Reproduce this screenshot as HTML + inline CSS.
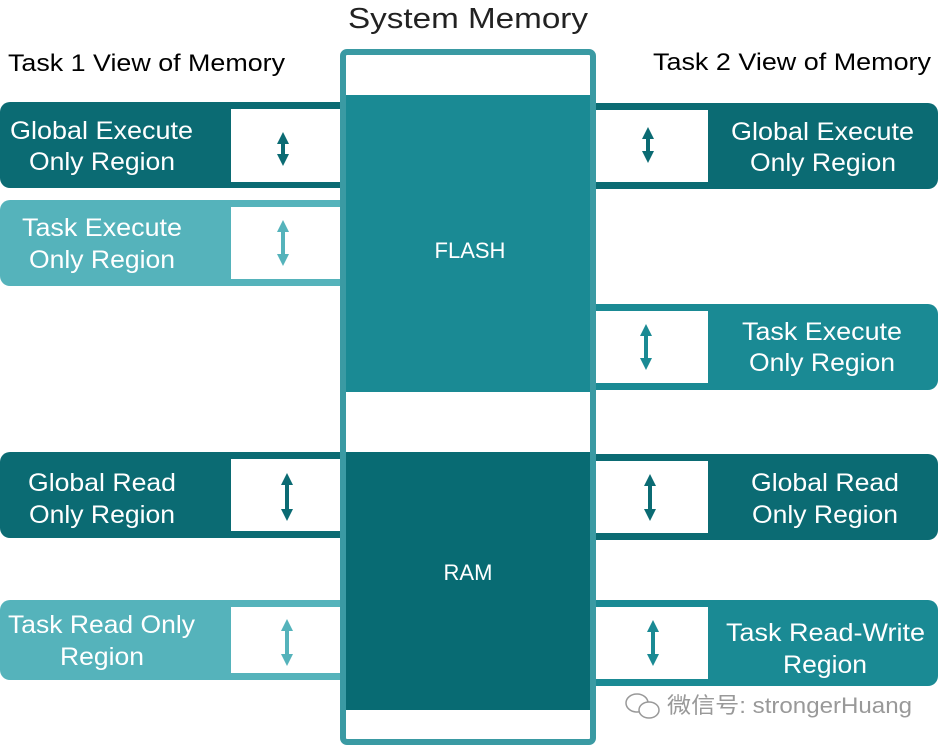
<!DOCTYPE html>
<html><head><style>body{margin:0;background:#fff}svg{display:block}</style></head><body>
<svg width="941" height="747" viewBox="0 0 941 747" xmlns="http://www.w3.org/2000/svg" font-family="Liberation Sans, sans-serif">
<defs>
<marker id="ad" viewBox="0 0 10 10" refX="5" refY="5" markerWidth="3" markerHeight="3" orient="auto-start-reverse"><path d="M0,0L10,5L0,10z" fill="#0b6b73"/></marker>
<marker id="al" viewBox="0 0 10 10" refX="5" refY="5" markerWidth="3" markerHeight="3" orient="auto-start-reverse"><path d="M0,0L10,5L0,10z" fill="#55b3bb"/></marker>
<marker id="am" viewBox="0 0 10 10" refX="5" refY="5" markerWidth="3" markerHeight="3" orient="auto-start-reverse"><path d="M0,0L10,5L0,10z" fill="#1a8a94"/></marker>
</defs>
<text x="348" y="28" font-size="29" fill="#222" textLength="240" lengthAdjust="spacingAndGlyphs">System Memory</text>
<text x="8" y="71" font-size="24" fill="#000" textLength="277" lengthAdjust="spacingAndGlyphs">Task 1 View of Memory</text>
<text x="653" y="70" font-size="24" fill="#000" textLength="278" lengthAdjust="spacingAndGlyphs">Task 2 View of Memory</text>

<rect x="0" y="102" width="350" height="86" rx="10" fill="#0b6b73"/><rect x="231" y="109" width="119" height="73" fill="#fff"/>
<rect x="0" y="200" width="350" height="86" rx="10" fill="#55b3bb"/><rect x="231" y="207" width="119" height="72" fill="#fff"/>
<rect x="0" y="452" width="350" height="86" rx="10" fill="#0b6b73"/><rect x="231" y="459" width="119" height="72" fill="#fff"/>
<rect x="0" y="600" width="350" height="80" rx="10" fill="#55b3bb"/><rect x="231" y="607" width="119" height="66" fill="#fff"/>

<rect x="585" y="103" width="353" height="86" rx="10" fill="#0b6b73"/><rect x="585" y="110" width="123" height="72" fill="#fff"/>
<rect x="585" y="304" width="353" height="86" rx="10" fill="#1a8a94"/><rect x="585" y="311" width="123" height="72" fill="#fff"/>
<rect x="585" y="454" width="353" height="86" rx="10" fill="#0b6b73"/><rect x="585" y="461" width="123" height="72" fill="#fff"/>
<rect x="585" y="600" width="353" height="86" rx="10" fill="#1a8a94"/><rect x="585" y="607" width="123" height="72" fill="#fff"/>

<rect x="343" y="52" width="250" height="690" rx="4" fill="#fff" stroke="#3a9aa3" stroke-width="6"/>
<rect x="346" y="95" width="244" height="297" fill="#1a8a94"/>
<rect x="346" y="452" width="244" height="258" fill="#086b73"/>
<text x="470" y="258" font-size="22" fill="#fff" text-anchor="middle">FLASH</text>
<text x="468" y="580" font-size="22" fill="#fff" text-anchor="middle">RAM</text>

<g stroke-width="4">
<line x1="283" y1="138" x2="283" y2="160" stroke="#0b6b73" marker-start="url(#ad)" marker-end="url(#ad)"/>
<line x1="283" y1="226" x2="283" y2="260" stroke="#55b3bb" marker-start="url(#al)" marker-end="url(#al)"/>
<line x1="287" y1="479" x2="287" y2="515" stroke="#0b6b73" marker-start="url(#ad)" marker-end="url(#ad)"/>
<line x1="287" y1="625" x2="287" y2="660" stroke="#55b3bb" marker-start="url(#al)" marker-end="url(#al)"/>
<line x1="648" y1="133" x2="648" y2="157" stroke="#0b6b73" marker-start="url(#ad)" marker-end="url(#ad)"/>
<line x1="646" y1="330" x2="646" y2="364" stroke="#1a8a94" marker-start="url(#am)" marker-end="url(#am)"/>
<line x1="650" y1="480" x2="650" y2="515" stroke="#0b6b73" marker-start="url(#ad)" marker-end="url(#ad)"/>
<line x1="653" y1="626" x2="653" y2="660" stroke="#1a8a94" marker-start="url(#am)" marker-end="url(#am)"/>
</g>

<g font-size="25" fill="#fff" lengthAdjust="spacingAndGlyphs">
<text x="10" y="139" textLength="183" lengthAdjust="spacingAndGlyphs">Global Execute</text><text x="29" y="170" textLength="146" lengthAdjust="spacingAndGlyphs">Only Region</text>
<text x="22" y="236" textLength="160" lengthAdjust="spacingAndGlyphs">Task Execute</text><text x="29" y="268" textLength="146" lengthAdjust="spacingAndGlyphs">Only Region</text>
<text x="28" y="491" textLength="148" lengthAdjust="spacingAndGlyphs">Global Read</text><text x="29" y="523" textLength="146" lengthAdjust="spacingAndGlyphs">Only Region</text>
<text x="8" y="633" textLength="187" lengthAdjust="spacingAndGlyphs">Task Read Only</text><text x="60" y="665" textLength="84" lengthAdjust="spacingAndGlyphs">Region</text>
<text x="731" y="140" textLength="183" lengthAdjust="spacingAndGlyphs">Global Execute</text><text x="750" y="171" textLength="146" lengthAdjust="spacingAndGlyphs">Only Region</text>
<text x="742" y="340" textLength="160" lengthAdjust="spacingAndGlyphs">Task Execute</text><text x="749" y="371" textLength="146" lengthAdjust="spacingAndGlyphs">Only Region</text>
<text x="751" y="491" textLength="148" lengthAdjust="spacingAndGlyphs">Global Read</text><text x="752" y="523" textLength="146" lengthAdjust="spacingAndGlyphs">Only Region</text>
<text x="726" y="641" textLength="199" lengthAdjust="spacingAndGlyphs">Task Read-Write</text><text x="783" y="673" textLength="84" lengthAdjust="spacingAndGlyphs">Region</text>
</g>
<g fill="none" stroke="#999" stroke-width="1.5">
<ellipse cx="637" cy="703" rx="11" ry="9"/><ellipse cx="649" cy="710" rx="10" ry="8" fill="#fff"/>
</g>
<text x="667" y="713" font-size="22" fill="#999" textLength="245" lengthAdjust="spacingAndGlyphs" font-family="Liberation Sans, Noto Sans CJK SC, sans-serif">微信号: strongerHuang</text>
</svg>
</body></html>
